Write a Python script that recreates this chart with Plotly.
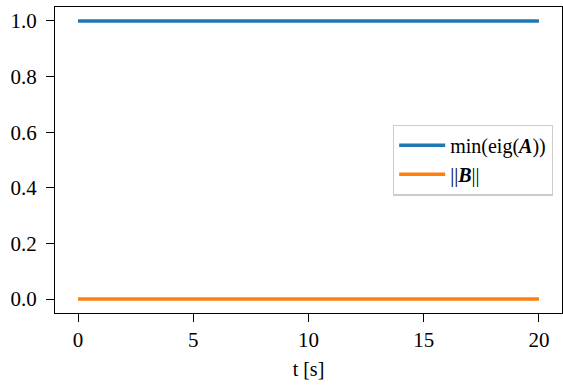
import plotly.graph_objects as go

t = [0, 5, 10, 15, 20]
min_eig_A = [1.0, 1.0, 1.0, 1.0, 1.0]
norm_B = [0.0, 0.0, 0.0, 0.0, 0.0]
x_ticks = [0, 5, 10, 15, 20]
y_ticks = [0.0, 0.2, 0.4, 0.6, 0.8, 1.0]

FONT = "Liberation Serif"

fig = go.Figure()
fig.add_trace(go.Scatter(x=t, y=min_eig_A, mode="lines",
                         line=dict(color="#1f77b4", width=3.5),
                         name="min(eig(<b><i>A</i></b>))"))
fig.add_trace(go.Scatter(x=t, y=norm_B, mode="lines",
                         line=dict(color="#ff7f0e", width=3.5),
                         name="||<b><i>B</i></b>||"))

axis_common = dict(showgrid=False, zeroline=False, showline=True, linecolor="black",
                   linewidth=1.3, mirror=True, ticks="outside", ticklen=8,
                   tickwidth=1.3, tickcolor="black",
                   tickfont=dict(family=FONT, size=21, color="black"))

fig.update_layout(
    width=563, height=390,
    margin=dict(l=55, r=1, t=7, b=77),
    plot_bgcolor="white", paper_bgcolor="white",
    font=dict(family=FONT, color="black"),
    xaxis=dict(range=[-1, 21], tickvals=x_ticks, ticktext=[str(v) for v in x_ticks],
               title=dict(text="t [s]", font=dict(family=FONT, size=20), standoff=10),
               **axis_common),
    yaxis=dict(range=[-0.05, 1.05], tickvals=y_ticks,
               ticktext=[f"{v:.1f}" for v in y_ticks], ticklabelstandoff=5,
               **axis_common),
    legend=dict(x=0.982, y=0.5, xanchor="right", yanchor="middle",
                bgcolor="white", bordercolor="#cccccc", borderwidth=1.3,
                font=dict(family=FONT, size=20, color="black"),
                itemwidth=46),
    showlegend=True,
)

fig.write_html("out.html")
